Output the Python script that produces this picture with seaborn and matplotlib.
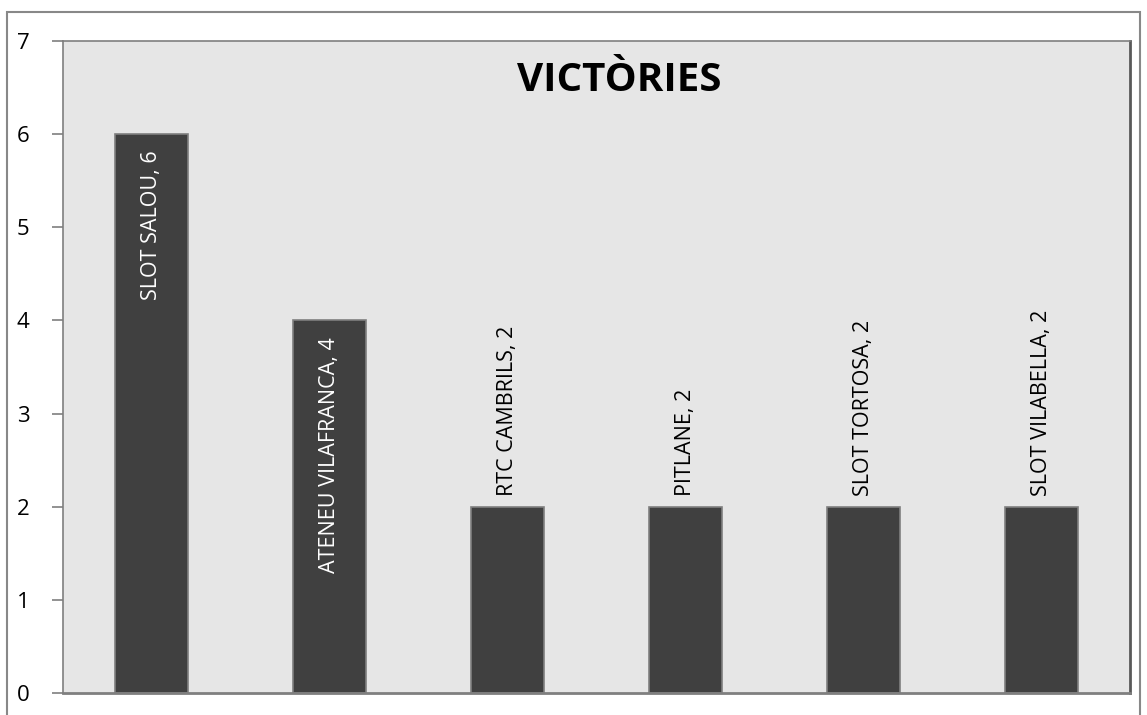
import matplotlib
matplotlib.use("Agg")
import matplotlib.pyplot as plt
import seaborn as sns
import pandas as pd
from matplotlib.patches import Rectangle

clubs = ["SLOT SALOU", "ATENEU VILAFRANCA", "RTC CAMBRILS", "PITLANE", "SLOT TORTOSA", "SLOT VILABELLA"]
victories = [6, 4, 2, 2, 2, 2]
y_ticks = [0, 1, 2, 3, 4, 5, 6, 7]

df = pd.DataFrame({"club": clubs, "victories": victories})

sns.set_style("white")
plt.rcParams["font.family"] = ["Open Sans", "DejaVu Sans"]

fig = plt.figure(figsize=(11.47, 7.15), dpi=100)
ax = fig.add_axes([63 / 1147, 22 / 715, (1130 - 63) / 1147, (693 - 41) / 715])
ax.set_facecolor("#e6e6e6")

sns.barplot(data=df, x="club", y="victories", color="#404040", width=0.41,
            edgecolor="#7f7f7f", linewidth=1.2, saturation=1, ax=ax)

ax.set_ylim(0, 7)
ax.set_yticks(y_ticks)
ax.set_xticks([])
ax.set_xlabel("")
ax.set_ylabel("")
ax.tick_params(axis="y", left=True, length=8, width=1.2, color="#7f7f7f",
               labelsize=16, labelcolor="black", pad=16)

for side in ["left", "bottom", "top"]:
    ax.spines[side].set_color("#7f7f7f")
    ax.spines[side].set_linewidth(1.2)
ax.spines["right"].set_color("#595959")
ax.spines["right"].set_linewidth(2)
ax.spines["bottom"].set_linewidth(2)

# data labels, inside the top of the tall bars, above the short ones
for i, (name, v) in enumerate(zip(clubs, victories)):
    txt = f"{name}, {v}"
    if v >= 4:
        ax.annotate(txt, (i, v), xytext=(0, -12), textcoords="offset points",
                    rotation=90, ha="center", va="top", color="white", fontsize=15.5)
    else:
        ax.annotate(txt, (i, v), xytext=(0, 8), textcoords="offset points",
                    rotation=90, ha="center", va="bottom", color="black", fontsize=15.5)

ax.text(0.521, 0.94, "VICTÒRIES", transform=ax.transAxes, ha="center", va="center",
        fontsize=29, fontweight="bold", color="black")

fig.patches.append(Rectangle((7 / 1147, -0.01), (1140 - 7) / 1147, (715 - 12) / 715 + 0.01,
                             transform=fig.transFigure, fill=False,
                             edgecolor="#888888", linewidth=1.5))

fig.savefig("out.png", dpi=100)
